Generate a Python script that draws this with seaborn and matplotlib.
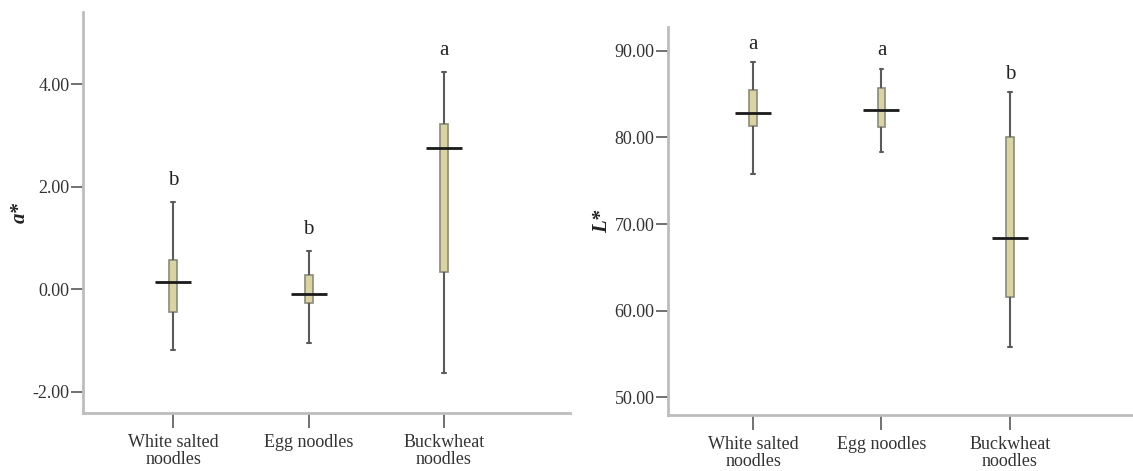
import numpy as np
import pandas as pd
import matplotlib
matplotlib.use("Agg")
import matplotlib.pyplot as plt
import seaborn as sns

categories = ["White salted\nnoodles", "Egg noodles", "Buckwheat\nnoodles"]

# five-number summaries: min, q1, centre line, q3, max
a_min = [-1.18, -1.04, -1.64]
a_q1 = [-0.44, -0.27, 0.34]
a_mid = [0.15, -0.09, 2.75]
a_q3 = [0.57, 0.27, 3.22]
a_max = [1.70, 0.75, 4.23]
a_letters = ["b", "b", "a"]

L_min = [75.8, 78.3, 55.85]
L_q1 = [81.3, 81.15, 61.6]
L_mid = [82.77, 83.15, 68.42]
L_q3 = [85.46, 85.73, 80.08]
L_max = [88.73, 87.96, 85.19]
L_letters = ["a", "a", "b"]

a_ticks = [-2.0, 0.0, 2.0, 4.0]
L_ticks = [50.0, 60.0, 70.0, 80.0, 90.0]

sns.set_style("white")
plt.rcParams["font.family"] = ["Liberation Serif", "DejaVu Serif"]

BOX_FILL = "#d9d4a2"
BOX_EDGE = "#8a8a7a"
WHISK = "#5a5a5a"
SPINE = "#bdbdbd"
TXT = "#333333"


def long_df(mins, q1s, mids, q3s, maxs):
    rows = []
    for c, vals in zip(categories, zip(mins, q1s, mids, q3s, maxs)):
        for v in vals:
            rows.append({"group": c, "value": v})
    return pd.DataFrame(rows)


def draw(ax, mins, q1s, mids, q3s, maxs, letters, ticks, ylim, xlim, ylabel, letter_off):
    df = long_df(mins, q1s, mids, q3s, maxs)
    sns.boxplot(data=df, x="group", y="value", order=categories, ax=ax,
                width=0.06, whis=(0, 100), color=BOX_FILL, saturation=1,
                linecolor=BOX_EDGE, linewidth=1.2, showfliers=False,
                whiskerprops=dict(color=WHISK, linewidth=1.5),
                capprops=dict(color=WHISK, linewidth=1.5),
                medianprops=dict(visible=False))
    mdf = pd.DataFrame({"group": categories, "value": mids})
    sns.scatterplot(data=mdf, x="group", y="value", ax=ax, marker="_",
                    s=650, color="#1a1a1a", linewidth=2, zorder=5, legend=False)
    for i, (lt, top) in enumerate(zip(letters, maxs)):
        ax.text(i, top + letter_off, lt, ha="center", va="center",
                fontsize=15, color="#222222")
    ax.set_xlim(*xlim)
    ax.set_ylim(*ylim)
    ax.set_yticks(ticks)
    ax.set_yticklabels([f"{t:.2f}" for t in ticks], fontsize=13, color=TXT)
    ax.set_xticks(range(len(categories)))
    ax.set_xticklabels(categories, fontsize=13, color=TXT, linespacing=1.0)
    ax.set_xlabel("")
    ax.set_ylabel(ylabel, fontsize=15, fontstyle="italic", fontweight="bold",
                  color="#222222", labelpad=2)
    for s in ["top", "right"]:
        ax.spines[s].set_visible(False)
    for s in ["left", "bottom"]:
        ax.spines[s].set_color(SPINE)
        ax.spines[s].set_linewidth(2)
    ax.tick_params(axis="x", bottom=True, length=11, width=1.3, color="#666666",
                   direction="out", pad=4)
    ax.tick_params(axis="y", left=True, length=9, width=1.3, color="#666666",
                   direction="out", pad=1)


fig = plt.figure(figsize=(11.33, 4.71), dpi=100)
ax1 = fig.add_axes([0.0735, 0.1225, 0.4295, 0.8525])
ax2 = fig.add_axes([0.590, 0.119, 0.410, 0.824])

draw(ax1, a_min, a_q1, a_mid, a_q3, a_max, a_letters, a_ticks,
     (-2.42, 5.41), (-0.664, 2.93), "a*", 0.42)
draw(ax2, L_min, L_q1, L_mid, L_q3, L_max, L_letters, L_ticks,
     (47.96, 92.77), (-0.66, 2.96), "L*", 2.05)

fig.savefig("out.png", dpi=100)
